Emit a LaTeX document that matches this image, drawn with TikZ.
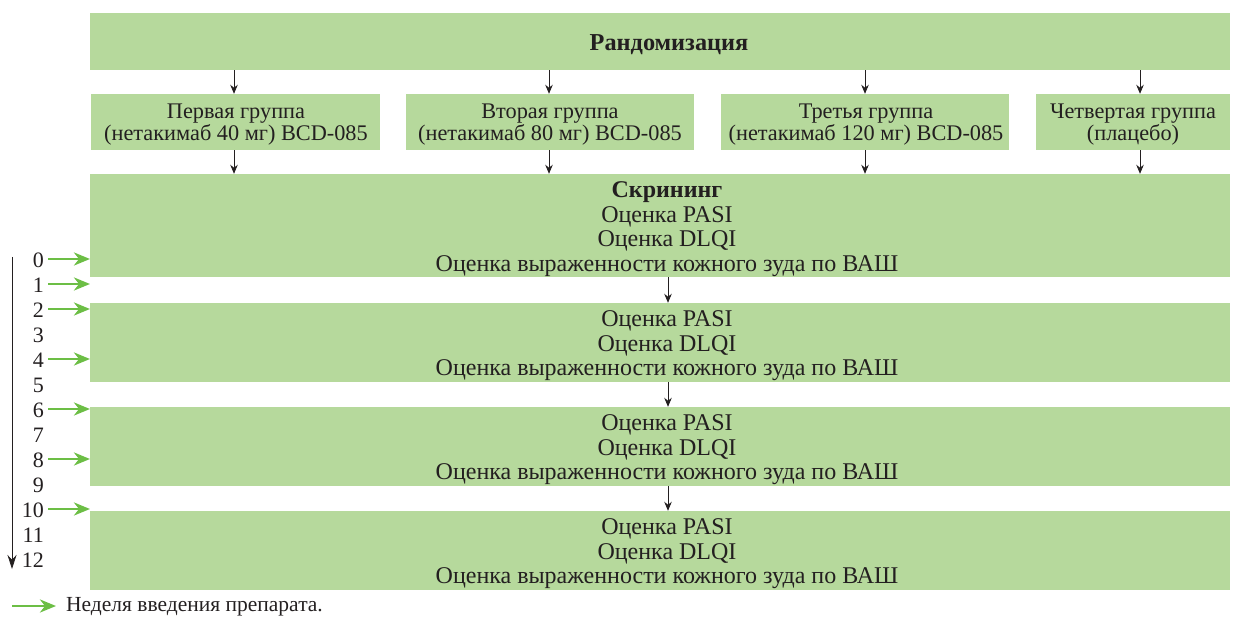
\documentclass[tikz,border=0pt]{standalone}
\usepackage{fontspec}
\setmainfont{Liberation Serif}
\usetikzlibrary{arrows.meta}
\definecolor{boxgreen}{RGB}{182,217,156}
\definecolor{arrgreen}{RGB}{108,190,69}
\definecolor{txt}{RGB}{35,31,32}
\tikzset{
  box/.style={fill=boxgreen, inner sep=0pt},
  lbl/.style={inner sep=0pt, align=center, text=txt},
  big/.style={lbl, font=\fontsize{24}{24.5}\selectfont},
  grp/.style={lbl, font=\fontsize{22.3}{22}\selectfont},
  darr/.style={draw=txt, line width=0.8pt, -{Stealth[length=9pt,width=7.5pt]}},
  tarr/.style={draw=txt, line width=0.8pt, -{Stealth[length=14pt,width=9pt]}},
  garr/.style={draw=arrgreen, line width=2.8pt, -{Stealth[length=16pt,width=13pt,inset=5pt]}},
  wk/.style={anchor=east, inner sep=0pt, text=txt, font=\fontsize{22}{22}\selectfont},
}
\begin{document}
\begin{tikzpicture}[x=1pt,y=-1pt]
\useasboundingbox (0,0) rectangle (1233,617);
% boxes
\node[box, minimum width=1140pt, minimum height=57pt] (rand) at (660,41.5) {};
\node[lbl, font=\fontsize{24.3}{24.5}\selectfont\bfseries] (randt) at (669,45) {Рандомизация};
\node[box, minimum width=289pt, minimum height=56pt] (g1) at (235.5,122) {};
\node[box, minimum width=288pt, minimum height=56pt] (g2) at (550,122) {};
\node[box, minimum width=288pt, minimum height=56pt] (g3) at (865,122) {};
\node[box, minimum width=194pt, minimum height=56pt] (g4) at (1133,122) {};
\node[grp] (g1t) at (236,125) {Первая группа\\(нетакимаб 40 мг) BCD-085};
\node[grp] (g2t) at (550,125) {Вторая группа\\(нетакимаб 80 мг) BCD-085};
\node[grp] (g3t) at (866,125) {Третья группа\\(нетакимаб 120 мг) BCD-085};
\node[grp] (g4t) at (1133,125) {Четвертая группа\\(плацебо)};
\node[box, minimum width=1140pt, minimum height=103pt] (scr) at (660,225.5) {};
\node[big] (scrt) at (667,229) {\textbf{Скрининг}\\Оценка PASI\\Оценка DLQI\\Оценка выраженности кожного зуда по ВАШ};
\node[box, minimum width=1140pt, minimum height=79pt] (v2) at (660,342.5) {};
\node[box, minimum width=1140pt, minimum height=79pt] (v3) at (660,446.5) {};
\node[box, minimum width=1140pt, minimum height=79pt] (v4) at (660,550.5) {};
\foreach \v in {v2,v3,v4}{
  \node[big] (\v t) at ([xshift=7pt,yshift=-3.5pt]\v.center) {Оценка PASI\\Оценка DLQI\\Оценка выраженности кожного зуда по ВАШ};
}
% black arrows
\foreach \g/\x in {g1/234,g2/549,g3/865,g4/1140}{
  \draw[darr] (rand.south -| \x,0) -- (\g.north -| \x,0);
  \draw[darr] (\g.south -| \x,0) -- (scr.north -| \x,0);
}
\draw[darr] (scr.south -| 668,0) -- (v2.north -| 668,0);
\draw[darr] (v2.south -| 668,0) -- (v3.north -| 668,0);
\draw[darr] (v3.south -| 668,0) -- (v4.north -| 668,0);
% timeline
\coordinate (ts) at (12,257);
\coordinate (te) at (12,569);
\draw[tarr] (ts) -- (te);
\foreach \i in {0,...,12}{
  \node[wk] (w\i) at (44,260+25*\i) {\i};
}
\foreach \i in {0,1,2,4,6,8,10}{
  \draw[garr] (48,259+25*\i) -- (90,259+25*\i);
}
% legend
\coordinate (l1) at (12,606);
\coordinate (l2) at (56,606);
\draw[garr] (l1) -- (l2);
\node[anchor=west, inner sep=0pt, text=txt, font=\fontsize{21.5}{22}\selectfont] (leg) at (66,607) {Неделя введения препарата.};
\end{tikzpicture}
\end{document}
